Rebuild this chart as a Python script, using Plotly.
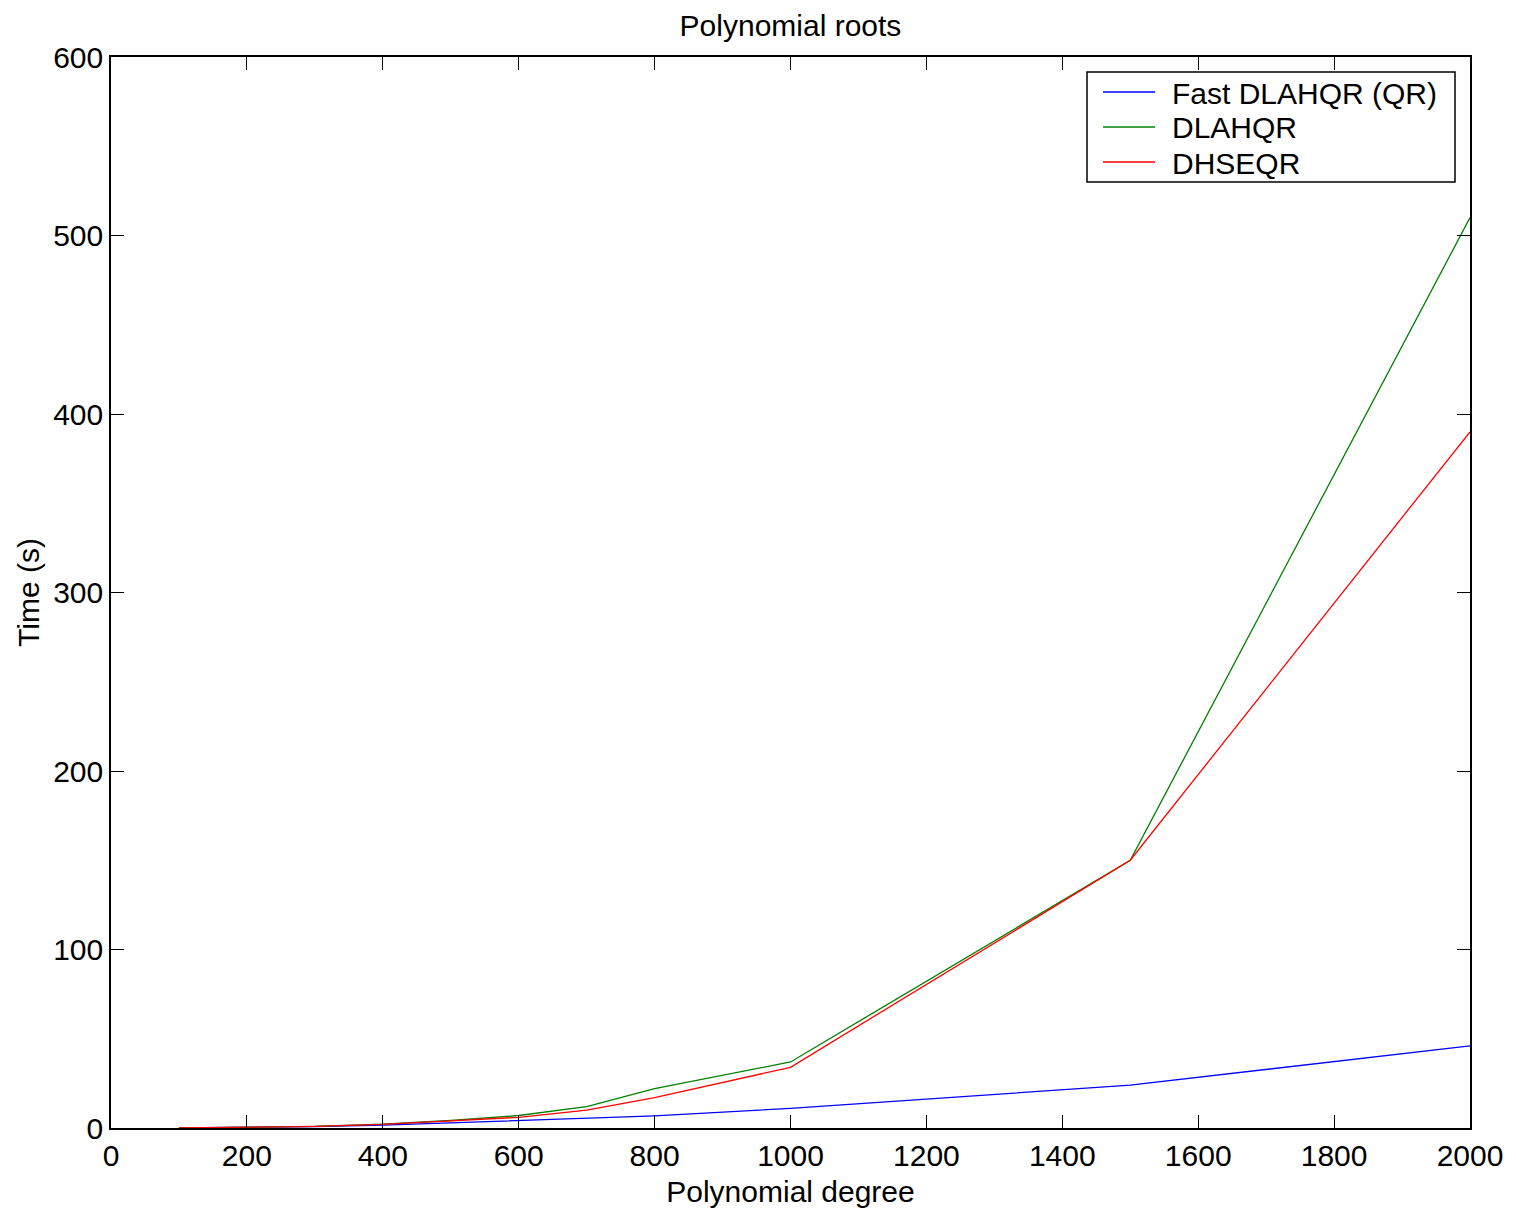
import plotly.graph_objects as go

degree = [100, 200, 300, 400, 500, 600, 700, 800, 1000, 1500, 2000]
fast_dlahqr = [0.05, 0.3, 0.8, 1.6, 2.8, 4.1, 5.5, 6.8, 11, 24, 46]
dlahqr = [0.05, 0.3, 0.9, 2.2, 4.2, 7.0, 12, 22, 37, 150, 510]
dhseqr = [0.05, 0.3, 0.9, 2.0, 3.8, 6.0, 10, 17, 34, 150, 390]

series_names = ["Fast DLAHQR (QR)", "DLAHQR", "DHSEQR"]
series_colors = ["#0000ff", "#008000", "#ff0000"]

x_ticks = [0, 200, 400, 600, 800, 1000, 1200, 1400, 1600, 1800, 2000]
y_ticks = [0, 100, 200, 300, 400, 500, 600]

FONT = "Liberation Sans, Arial, Helvetica, sans-serif"
FS = 30

# page has an 8px body margin; figure size compensates
W, H = 1508, 1210
ML, MR, MT, MB = 103, 46, 49, 90
PW, PH = W - ML - MR, H - MT - MB


def px2x(px):
    return (px - 8 - ML) / PW


def px2y(py):
    return (H - MB - (py - 8)) / PH


fig = go.Figure()
for name, vals, col in zip(series_names, [fast_dlahqr, dlahqr, dhseqr], series_colors):
    fig.add_trace(go.Scatter(x=degree, y=vals, mode="lines", name=name,
                             line=dict(color=col, width=1.3), showlegend=False))

axis_common = dict(
    showgrid=False, zeroline=False, showline=True, linecolor="black", linewidth=1.5,
    mirror="allticks", ticks="inside", ticklen=13, tickwidth=1.3, tickcolor="black",
    tickfont=dict(family=FONT, size=FS, color="black"),
)

# custom legend box (matching MATLAB-style legend)
shapes = [dict(type="rect", xref="paper", yref="paper",
               x0=px2x(1087), x1=px2x(1455), y0=px2y(182), y1=px2y(72),
               line=dict(color="black", width=1.5), fillcolor="white", layer="above")]
annotations = []
row_y = [92, 127, 162]
for name, col, ry in zip(series_names, series_colors, row_y):
    shapes.append(dict(type="line", xref="paper", yref="paper",
                       x0=px2x(1103), x1=px2x(1155), y0=px2y(ry), y1=px2y(ry),
                       line=dict(color=col, width=1.3), layer="above"))
    annotations.append(dict(text=name, xref="paper", yref="paper",
                            x=px2x(1170), y=px2y(ry + 1), xanchor="left", yanchor="middle",
                            showarrow=False, font=dict(family=FONT, size=FS, color="black")))

fig.update_layout(
    width=W, height=H,
    paper_bgcolor="white", plot_bgcolor="white",
    margin=dict(l=ML, r=MR, t=MT, b=MB),
    font=dict(family=FONT, size=FS, color="black"),
    title=dict(text="Polynomial roots", x=0.5, xref="paper", xanchor="center",
               y=1 - (25 - 8) / H, yref="container", yanchor="middle",
               font=dict(family=FONT, size=FS, color="black")),
    xaxis=dict(range=[0, 2000], tickvals=x_ticks,
               title=dict(text="Polynomial degree", standoff=10,
                          font=dict(family=FONT, size=FS, color="black")),
               **axis_common),
    yaxis=dict(range=[0, 600], tickvals=y_ticks,
               title=dict(text="Time (s)", standoff=5,
                          font=dict(family=FONT, size=FS, color="black")),
               **axis_common),
    shapes=shapes,
    annotations=annotations,
    showlegend=False,
)

fig.write_html("out.html")
